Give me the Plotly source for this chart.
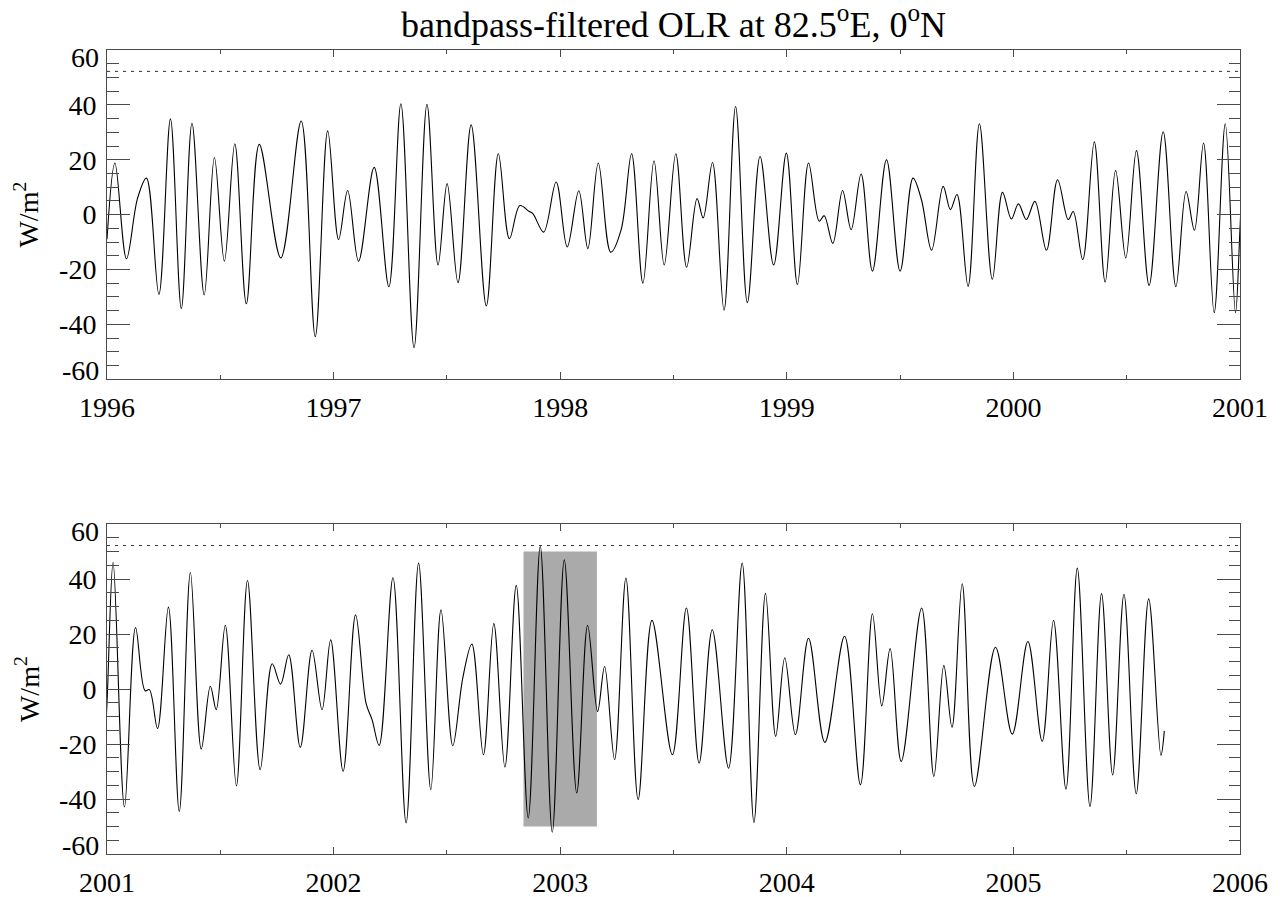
import plotly.graph_objects as go
from plotly.subplots import make_subplots

# ---- data (decimal year, W/m^2): extrema & shoulders ----
olr_time = [
    1996.000, 1996.035, 1996.086, 1996.135, 1996.174, 1996.229, 1996.280, 1996.328, 1996.375, 1996.429,
    1996.474, 1996.518, 1996.564, 1996.615, 1996.672, 1996.767, 1996.857, 1996.919, 1996.974, 1997.022,
    1997.062, 1997.110, 1997.179, 1997.244, 1997.297, 1997.355, 1997.412, 1997.461, 1997.501, 1997.549,
    1997.607, 1997.674, 1997.727, 1997.776, 1997.822, 1997.862, 1997.880, 1997.927, 1997.982, 1998.031,
    1998.082, 1998.122, 1998.168, 1998.223, 1998.269, 1998.315, 1998.365, 1998.414, 1998.459, 1998.510,
    1998.558, 1998.604, 1998.631, 1998.672, 1998.723, 1998.774, 1998.826, 1998.882, 1998.942, 1998.998,
    1999.047, 1999.096, 1999.143, 1999.165, 1999.203, 1999.246, 1999.284, 1999.328, 1999.378, 1999.440,
    1999.500, 1999.557, 1999.594, 1999.639, 1999.690, 1999.722, 1999.751, 1999.800, 1999.850, 1999.907,
    1999.952, 1999.991, 2000.022, 2000.057, 2000.095, 2000.146, 2000.195, 2000.242, 2000.264, 2000.306,
    2000.357, 2000.405, 2000.451, 2000.496, 2000.543, 2000.599, 2000.661, 2000.717, 2000.762, 2000.799,
    2000.839, 2000.886, 2000.935, 2000.980, 2001.000, 2001.027, 2001.077, 2001.126, 2001.168, 2001.187,
    2001.223, 2001.271, 2001.319, 2001.368, 2001.416, 2001.456, 2001.482, 2001.522, 2001.571, 2001.620,
    2001.676, 2001.729, 2001.766, 2001.802, 2001.853, 2001.905, 2001.949, 2001.987, 2002.042, 2002.097,
    2002.143, 2002.170, 2002.201, 2002.262, 2002.320, 2002.375, 2002.429, 2002.474, 2002.526, 2002.570,
    2002.610, 2002.661, 2002.707, 2002.756, 2002.806, 2002.859, 2002.912, 2002.965, 2003.018, 2003.073,
    2003.121, 2003.165, 2003.196, 2003.240, 2003.290, 2003.344, 2003.405, 2003.495, 2003.557, 2003.613,
    2003.671, 2003.743, 2003.803, 2003.855, 2003.906, 2003.951, 2003.991, 2004.038, 2004.096, 2004.168,
    2004.255, 2004.325, 2004.378, 2004.419, 2004.456, 2004.505, 2004.595, 2004.649, 2004.693, 2004.729,
    2004.774, 2004.828, 2004.921, 2004.995, 2005.064, 2005.127, 2005.177, 2005.232, 2005.282, 2005.338,
    2005.389, 2005.438, 2005.488, 2005.542, 2005.597, 2005.651, 2005.666,
]
olr_value = [
    -9.0, 18.8, -16.1, 6.0, 13.3, -29.1, 34.9, -34.3, 33.3, -29.3,
    20.8, -17.0, 25.8, -32.5, 25.6, -15.8, 34.1, -44.5, 30.5, -9.1,
    8.8, -17.0, 17.2, -26.3, 40.4, -48.5, 40.2, -18.4, 11.3, -24.8,
    32.7, -33.3, 22.2, -8.8, 3.3, 1.2, 0.3, -6.4, 11.9, -11.8,
    8.7, -12.4, 18.8, -13.7, -5.5, 22.2, -25.0, 19.6, -18.4, 22.2,
    -19.2, 5.8, -1.2, 19.0, -34.9, 39.4, -32.1, 21.2, -18.4, 22.4,
    -25.5, 18.8, -2.4, -0.4, -10.5, 8.8, -5.5, 14.8, -20.6, 20.0,
    -20.6, 13.3, 5.5, -13.0, 10.3, 1.8, 7.3, -26.1, 33.1, -23.6,
    8.1, -1.6, 3.9, -1.8, 4.8, -13.0, 12.7, -1.8, 1.1, -16.4,
    26.5, -24.6, 16.1, -15.8, 23.3, -25.8, 30.2, -26.3, 8.4, -5.7,
    26.1, -35.8, 33.1, -35.8, -5.0, 46.1, -42.9, 22.4, -0.6, -0.2,
    -14.3, 29.8, -44.5, 42.4, -21.8, 1.0, -7.5, 23.2, -35.2, 39.5,
    -29.3, 9.2, 1.8, 12.5, -21.2, 14.1, -7.5, 17.9, -29.9, 27.0,
    -5.1, -11.2, -20.5, 40.5, -48.7, 45.8, -36.6, 28.8, -20.6, 4.0,
    16.4, -23.9, 23.8, -28.4, 37.7, -46.9, 51.9, -52.1, 47.0, -37.8,
    23.2, -8.2, 8.2, -25.7, 40.4, -40.2, 25.0, -23.9, 29.5, -26.9,
    21.6, -28.8, 45.8, -48.5, 34.8, -17.2, 11.4, -16.6, 18.5, -19.4,
    19.2, -34.8, 27.4, -6.1, 14.7, -26.3, 29.5, -31.8, 8.6, -13.9,
    38.3, -35.4, 15.2, -16.4, 17.3, -19.0, 25.0, -36.4, 44.0, -42.7,
    34.7, -31.2, 34.5, -38.1, 32.8, -24.1, -15.2,
]

threshold = 52.2                     # dotted reference line
event_start, event_end = 2002.838, 2003.162   # shaded event window
event_low, event_high = -50.0, 50.0

panel_ranges = [(1996, 2001), (2001, 2006)]
year_ticks = [[1996, 1997, 1998, 1999, 2000, 2001], [2001, 2002, 2003, 2004, 2005, 2006]]
y_ticks = [-40, -20, 0, 20, 40]
y_end_ticks = [60, -60]

FONT = "Liberation Serif"
AX = "#4a4a4a"

fig = make_subplots(rows=2, cols=1, vertical_spacing=0.0)
fig.update_layout(
    width=1284, height=897,
    margin=dict(l=107, r=44, t=50, b=43, autoexpand=False),
    paper_bgcolor="white", plot_bgcolor="white",
    showlegend=False,
    font=dict(family=FONT, size=28, color="black"),
    title=dict(text="bandpass-filtered OLR at 82.5<sup>o</sup>E, 0<sup>o</sup>N",
               x=0.5, xanchor="center", xref="paper",
               y=1 - 24 / 897, yref="container", yanchor="middle",
               font=dict(family=FONT, size=36, color="black")),
)

fig.update_yaxes(domain=[0.5906, 1.0], row=1, col=1)
fig.update_yaxes(domain=[0.0, 0.4103], row=2, col=1)

for i in range(2):
    r = i + 1
    fig.add_trace(go.Scatter(x=olr_time, y=olr_value, mode="lines",
                             line=dict(color="black", width=1.1, shape="spline", smoothing=1.0),
                             hoverinfo="skip"), row=r, col=1)
    fig.update_xaxes(range=list(panel_ranges[i]), tickvals=year_ticks[i],
                     ticktext=[str(y) for y in year_ticks[i]],
                     ticks="inside", ticklen=7, tickwidth=1, tickcolor=AX,
                     minor=dict(dtick=0.5, ticks="inside", ticklen=4, tickwidth=1, tickcolor=AX),
                     showline=True, linecolor=AX, linewidth=1, mirror="allticks",
                     showgrid=False, zeroline=False,
                     tickfont=dict(family=FONT, size=28, color="black"),
                     ticklabelstandoff=3, row=r, col=1)
    fig.update_yaxes(range=[-60, 60], tickvals=y_ticks, ticktext=[str(v) for v in y_ticks],
                     ticks="inside", ticklen=23, tickwidth=1, tickcolor=AX,
                     minor=dict(dtick=5, ticks="inside", ticklen=11.5, tickwidth=1, tickcolor=AX),
                     showline=True, linecolor=AX, linewidth=1, mirror="allticks",
                     showgrid=False, zeroline=False,
                     tickfont=dict(family=FONT, size=28, color="black"),
                     ticklabelstandoff=4, row=r, col=1)

    xref = "x" if i == 0 else "x2"
    yref = "y" if i == 0 else "y2"
    # dotted threshold line
    fig.add_shape(type="line", xref=f"{xref} domain", yref=yref, x0=0, x1=1,
                  y0=threshold, y1=threshold,
                  line=dict(color="#333333", width=1, dash="3px,5px"))
    # end labels shifted inward (as in the reference)
    for val in y_end_ticks:
        fig.add_annotation(xref=f"{xref} domain", yref=yref, x=0, y=val,
                           text=str(val), showarrow=False, xanchor="right", yanchor="middle",
                           xshift=-6, yshift=-7.5 if val > 0 else 8.5,
                           font=dict(family=FONT, size=28, color="black"))
    # y-axis title
    fig.add_annotation(xref=f"{xref} domain", yref=f"{yref} domain", x=0, y=0.5,
                       text="W/m<sup>2</sup>", textangle=-90, showarrow=False,
                       xanchor="center", yanchor="middle", xshift=-80,
                       font=dict(family=FONT, size=28, color="black"))

# shaded event window (bottom panel)
fig.add_shape(type="rect", xref="x2", yref="y2", x0=event_start, x1=event_end,
              y0=event_low, y1=event_high, fillcolor="#aaaaaa", line=dict(width=0),
              layer="below")

fig.write_html("out.html", config={"displayModeBar": False},
               post_script="document.body.style.margin='0px';")
